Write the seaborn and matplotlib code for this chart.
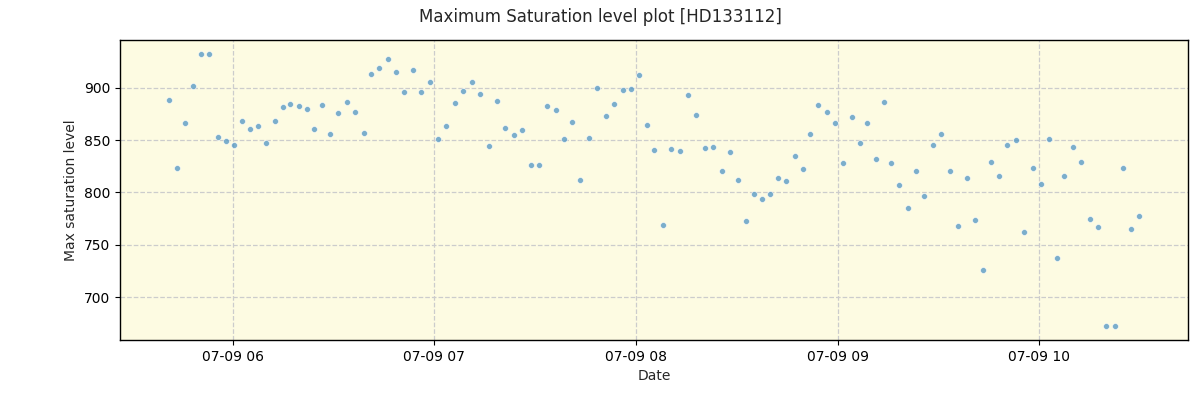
import matplotlib
matplotlib.use("Agg")
import matplotlib.pyplot as plt
import matplotlib.dates as mdates
import seaborn as sns
import pandas as pd

times = [
    "05:40:56", "05:43:19", "05:45:43", "05:48:05", "05:50:28", "05:52:51", "05:55:32", "05:57:55",
    "06:00:18", "06:02:41", "06:05:04", "06:07:27", "06:09:50", "06:12:30", "06:14:53", "06:16:58",
    "06:19:39", "06:22:02", "06:24:07", "06:26:30", "06:28:53", "06:31:16", "06:33:57", "06:36:20",
    "06:39:01", "06:41:05", "06:43:28", "06:46:09", "06:48:32", "06:50:55", "06:53:36", "06:55:59",
    "06:58:40", "07:01:02", "07:03:26", "07:06:07", "07:08:29", "07:11:10", "07:13:33", "07:16:14",
    "07:18:37", "07:21:00", "07:23:40", "07:26:04", "07:28:44", "07:31:07", "07:33:30", "07:36:11",
    "07:38:34", "07:40:57", "07:43:20", "07:46:00", "07:48:23", "07:51:04", "07:53:27", "07:56:08",
    "07:58:31", "08:00:54", "08:03:17", "08:05:22", "08:08:02", "08:10:25", "08:13:06", "08:15:29",
    "08:17:52", "08:20:33", "08:22:56", "08:25:37", "08:27:59", "08:30:22", "08:32:46", "08:35:08",
    "08:37:31", "08:39:54", "08:42:17", "08:44:40", "08:47:21", "08:49:44", "08:51:49", "08:54:12",
    "08:56:53", "08:59:16", "09:01:38", "09:04:19", "09:06:42", "09:08:47", "09:11:28", "09:13:51",
    "09:15:56", "09:18:19", "09:21:00", "09:23:23", "09:25:46", "09:28:26", "09:30:49", "09:33:30",
    "09:35:53", "09:38:34", "09:40:57", "09:43:20", "09:45:43", "09:48:05", "09:50:28", "09:53:09",
    "09:55:32", "09:58:13", "10:00:36", "10:02:59", "10:05:22", "10:07:27", "10:10:08", "10:12:31",
    "10:15:11", "10:17:34", "10:19:57", "10:22:38", "10:25:01", "10:27:24", "10:29:47",
]

max_saturation = [
    888.5, 823.4, 866.5, 901.9, 932.5, 932.5, 853.1, 849.3,
    845.5, 868.4, 860.8, 863.6, 847.4, 868.4, 881.8, 884.7,
    882.8, 879.9, 860.8, 883.7, 856.0, 876.1, 886.6, 877.0,
    856.9, 913.4, 919.1, 927.8, 915.3, 896.2, 917.2, 896.2,
    905.7, 851.2, 863.6, 885.6, 897.1, 905.7, 894.3, 844.5,
    887.6, 861.7, 855.0, 859.8, 826.3, 826.3, 882.8, 878.9,
    851.2, 867.5, 812.0, 852.2, 900.0, 873.2, 884.7, 898.1,
    899.0, 912.4, 864.6, 840.7, 768.9, 841.6, 839.7, 893.3,
    874.2, 842.6, 843.5, 820.6, 838.8, 812.0, 772.7, 798.6,
    793.8, 798.6, 813.9, 811.0, 834.9, 822.5, 856.0, 883.7,
    877.0, 866.5, 828.2, 872.2, 847.4, 866.5, 832.1, 886.6,
    828.2, 807.2, 785.2, 820.6, 796.7, 845.5, 856.0, 820.6,
    767.9, 813.9, 773.7, 725.8, 829.2, 815.8, 845.5, 850.2,
    762.2, 823.4, 808.1, 851.2, 737.3, 815.8, 843.5, 829.2,
    774.6, 767.0, 672.2, 672.2, 823.4, 765.1, 777.5,
]

date_str = "2024-07-09"
df = pd.DataFrame({
    "Date": pd.to_datetime([f"{date_str} {t}" for t in times]),
    "Max saturation level": max_saturation,
})

sns.set_style("ticks")
plt.rcParams['font.family'] = ['DejaVu Sans']

fig, ax = plt.subplots(figsize=(12, 4), dpi=100)
fig.subplots_adjust(left=0.1, right=0.99, top=0.9, bottom=0.15)
ax.set_facecolor("#fdfbe2")

sns.scatterplot(data=df, x="Date", y="Max saturation level", ax=ax,
                color="#4f94c4", alpha=0.75, s=18, edgecolor="white", linewidth=0.5, zorder=3)

ax.grid(True, linestyle="--", color="#cccccc", linewidth=0.9)
ax.set_axisbelow(True)
ax.xaxis.set_major_locator(mdates.HourLocator())
ax.xaxis.set_major_formatter(mdates.DateFormatter("%m-%d %H"))
ax.set_yticks([700, 750, 800, 850, 900])
for s in ax.spines.values():
    s.set_color("black")
    s.set_linewidth(1.0)
ax.tick_params(colors="black", labelsize=10)
ax.set_xlabel("Date", fontsize=10)
ax.set_ylabel("Max saturation level", fontsize=10)
fig.suptitle("Maximum Saturation level plot [HD133112]", fontsize=12)

fig.savefig("out.png")
